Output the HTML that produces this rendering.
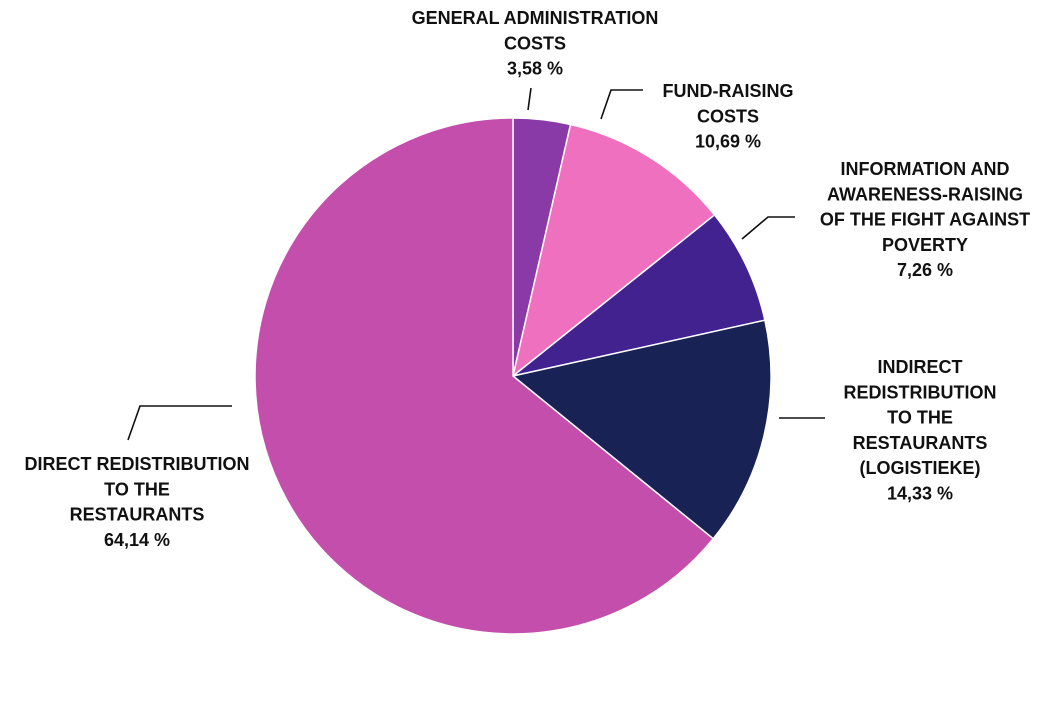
<!DOCTYPE html>
<html><head><meta charset="utf-8"><style>
html,body{margin:0;padding:0;background:#fff;}
svg{display:block;}
text{font-family:"Liberation Sans",sans-serif;font-weight:bold;font-size:18px;fill:#111;text-anchor:middle;}
</style></head><body>
<svg width="1064" height="707" viewBox="0 0 1064 707">
<g id="slices"></g>
<g id="leaders" stroke="#111" stroke-width="1.6" fill="none">
<polyline points="531,88 528,110"/>
<polyline points="601,119 611,90 643,90"/>
<polyline points="742,239 768,217 795,217"/>
<polyline points="779,418 825,418"/>
<polyline points="128,440 140,406 232,406"/>
</g>
<g id="labels"></g>
</svg>
<script>
const categories=["GENERAL ADMINISTRATION COSTS","FUND-RAISING COSTS","INFORMATION AND AWARENESS-RAISING OF THE FIGHT AGAINST POVERTY","INDIRECT REDISTRIBUTION TO THE RESTAURANTS (LOGISTIEKE)","DIRECT REDISTRIBUTION TO THE RESTAURANTS"];
const values=[3.58,10.69,7.26,14.33,64.14];
const valueLabels=["3,58 %","10,69 %","7,26 %","14,33 %","64,14 %"];
const labelLines=[["GENERAL ADMINISTRATION","COSTS"],["FUND-RAISING","COSTS"],["INFORMATION AND","AWARENESS-RAISING","OF THE FIGHT AGAINST","POVERTY"],["INDIRECT","REDISTRIBUTION","TO THE","RESTAURANTS","(LOGISTIEKE)"],["DIRECT REDISTRIBUTION","TO THE","RESTAURANTS"]];
const colors=["#8a3aa6","#f070c0","#42228e","#182255","#c44eab"];
const labelPos=[[535,24],[728,97],[925,175],[920,373],[137,470]];
const cx=513,cy=376,r=258,lh=25.3;
const NS="http://www.w3.org/2000/svg";
const total=values.reduce((a,b)=>a+b,0);
const sg=document.getElementById('slices'),lg=document.getElementById('labels');
let acc=0;
function pt(f){const a=f*2*Math.PI-Math.PI/2;return [cx+r*Math.cos(a),cy+r*Math.sin(a)];}
values.forEach((v,i)=>{
 const f0=acc/total;acc+=v;const f1=acc/total;
 const p0=pt(f0),p1=pt(f1);const large=(f1-f0)>0.5?1:0;
 const p=document.createElementNS(NS,'path');
 p.setAttribute('d',`M${cx},${cy} L${p0[0]},${p0[1]} A${r},${r} 0 ${large} 1 ${p1[0]},${p1[1]} Z`);
 p.setAttribute('fill',colors[i]);p.setAttribute('stroke','#fff');p.setAttribute('stroke-width','1.5');
 
 
 sg.appendChild(p);
 const t=document.createElementNS(NS,'text');
 
 
 const lines=labelLines[i].concat([valueLabels[i]]);
 lines.forEach((s,j)=>{const ts=document.createElementNS(NS,'tspan');ts.setAttribute('x',labelPos[i][0]);ts.setAttribute('y',labelPos[i][1]+j*lh);ts.textContent=s;t.appendChild(ts);});
 lg.appendChild(t);
});
</script>
</body></html>
